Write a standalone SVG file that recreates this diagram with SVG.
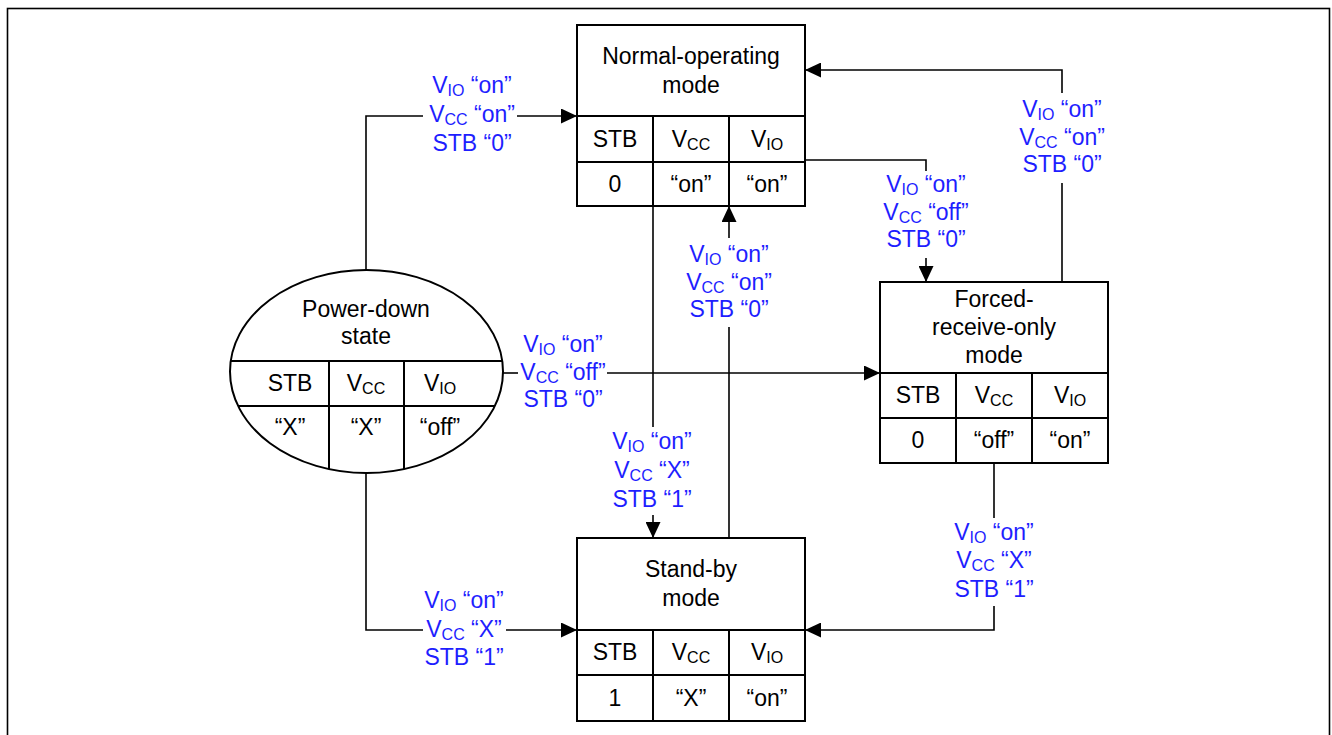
<svg xmlns="http://www.w3.org/2000/svg" width="1332" height="735" viewBox="0 0 1332 735">
<style>
text{font-family:"Liberation Sans",Arial,sans-serif;font-size:23px;text-anchor:middle;fill:#000}
.lbl text{fill:#1e1eff}
.box{fill:#fff;stroke:#000;stroke-width:2}
.grid{stroke:#000;stroke-width:2;fill:none}
.conn{stroke:#000;stroke-width:1.6;fill:none}
.sub{font-size:16px}
</style>
<defs>
<marker id="arr" markerUnits="userSpaceOnUse" viewBox="0 0 16 15" refX="16" refY="7.5" markerWidth="16" markerHeight="15" orient="auto">
<path d="M0,0 L16,7.5 L0,15 Z" fill="#000"/>
</marker>
</defs>
<rect x="7.5" y="8.5" width="1322" height="760" fill="none" stroke="#000" stroke-width="1.6"/>

<g id="connectors">
<!-- Power-down to Normal -->
<path class="conn" d="M366,270 V116 H423"/>
<path class="conn" d="M517,116 H577" marker-end="url(#arr)"/>
<!-- Power-down to Forced -->
<path class="conn" d="M503,373 H518"/>
<path class="conn" d="M607,373 H880" marker-end="url(#arr)"/>
<!-- Normal to Forced -->
<path class="conn" d="M805,160 H926 V171"/>
<path class="conn" d="M926,258 V282" marker-end="url(#arr)"/>
<!-- Forced to Normal -->
<path class="conn" d="M1062,282 V183"/>
<path class="conn" d="M1062,93 V70 H805" marker-end="url(#arr)"/>
<!-- Normal to Standby -->
<path class="conn" d="M653,206 V427"/>
<path class="conn" d="M653,515 V538" marker-end="url(#arr)"/>
<!-- Standby to Normal -->
<path class="conn" d="M729,538 V327"/>
<path class="conn" d="M729,238 V206" marker-end="url(#arr)"/>
<!-- Forced to Standby -->
<path class="conn" d="M994,463 V518"/>
<path class="conn" d="M994,606 V630 H805" marker-end="url(#arr)"/>
<!-- Power-down to Standby -->
<path class="conn" d="M366,473 V630 H423"/>
<path class="conn" d="M506,630 H577" marker-end="url(#arr)"/>
</g>

<g id="labels" class="lbl">
<g id="lbl-pd-normal">
<text x="472" y="93">V<tspan class="sub" dy="3">IO</tspan><tspan dy="-3"> “on”</tspan></text>
<text x="472" y="122">V<tspan class="sub" dy="3">CC</tspan><tspan dy="-3"> “on”</tspan></text>
<text x="472" y="151">STB “0”</text>
</g>
<g id="lbl-pd-forced">
<text x="563" y="352">V<tspan class="sub" dy="3">IO</tspan><tspan dy="-3"> “on”</tspan></text>
<text x="563" y="380">V<tspan class="sub" dy="3">CC</tspan><tspan dy="-3"> “off”</tspan></text>
<text x="563" y="407">STB “0”</text>
</g>
<g id="lbl-normal-forced">
<text x="926" y="192">V<tspan class="sub" dy="3">IO</tspan><tspan dy="-3"> “on”</tspan></text>
<text x="926" y="220">V<tspan class="sub" dy="3">CC</tspan><tspan dy="-3"> “off”</tspan></text>
<text x="926" y="247">STB “0”</text>
</g>
<g id="lbl-forced-normal">
<text x="1062" y="117">V<tspan class="sub" dy="3">IO</tspan><tspan dy="-3"> “on”</tspan></text>
<text x="1062" y="145">V<tspan class="sub" dy="3">CC</tspan><tspan dy="-3"> “on”</tspan></text>
<text x="1062" y="172">STB “0”</text>
</g>
<g id="lbl-normal-standby">
<text x="652" y="449">V<tspan class="sub" dy="3">IO</tspan><tspan dy="-3"> “on”</tspan></text>
<text x="652" y="478">V<tspan class="sub" dy="3">CC</tspan><tspan dy="-3"> “X”</tspan></text>
<text x="652" y="507">STB “1”</text>
</g>
<g id="lbl-standby-normal">
<text x="729" y="262">V<tspan class="sub" dy="3">IO</tspan><tspan dy="-3"> “on”</tspan></text>
<text x="729" y="290">V<tspan class="sub" dy="3">CC</tspan><tspan dy="-3"> “on”</tspan></text>
<text x="729" y="317">STB “0”</text>
</g>
<g id="lbl-forced-standby">
<text x="994" y="540">V<tspan class="sub" dy="3">IO</tspan><tspan dy="-3"> “on”</tspan></text>
<text x="994" y="568">V<tspan class="sub" dy="3">CC</tspan><tspan dy="-3"> “X”</tspan></text>
<text x="994" y="597">STB “1”</text>
</g>
<g id="lbl-pd-standby">
<text x="464" y="608">V<tspan class="sub" dy="3">IO</tspan><tspan dy="-3"> “on”</tspan></text>
<text x="464" y="637">V<tspan class="sub" dy="3">CC</tspan><tspan dy="-3"> “X”</tspan></text>
<text x="464" y="665">STB “1”</text>
</g>
</g>

<g id="node-normal">
<rect class="box" x="577" y="25" width="228" height="181"/>
<path class="grid" d="M577,116 H805 M577,162 H805 M653,116 V206 M729,116 V206"/>
<text x="691" y="64">Normal-operating</text>
<text x="691" y="93">mode</text>
<text x="615" y="147">STB</text>
<text x="691" y="147">V<tspan class="sub" dy="3">CC</tspan></text>
<text x="767" y="147">V<tspan class="sub" dy="3">IO</tspan></text>
<text x="615" y="192">0</text>
<text x="691" y="192">“on”</text>
<text x="767" y="192">“on”</text>
</g>

<g id="node-forced">
<rect class="box" x="880" y="282" width="228" height="181"/>
<path class="grid" d="M880,373 H1108 M880,418 H1108 M956,373 V463 M1032,373 V463"/>
<text x="994" y="307">Forced-</text>
<text x="994" y="335">receive-only</text>
<text x="994" y="363">mode</text>
<text x="918" y="403">STB</text>
<text x="994" y="403">V<tspan class="sub" dy="3">CC</tspan></text>
<text x="1070" y="403">V<tspan class="sub" dy="3">IO</tspan></text>
<text x="918" y="448">0</text>
<text x="994" y="448">“off”</text>
<text x="1070" y="448">“on”</text>
</g>

<g id="node-standby">
<rect class="box" x="577" y="538" width="228" height="183"/>
<path class="grid" d="M577,630 H805 M577,675 H805 M653,630 V721 M729,630 V721"/>
<text x="691" y="577">Stand-by</text>
<text x="691" y="606">mode</text>
<text x="615" y="660">STB</text>
<text x="691" y="660">V<tspan class="sub" dy="3">CC</tspan></text>
<text x="767" y="660">V<tspan class="sub" dy="3">IO</tspan></text>
<text x="615" y="706">1</text>
<text x="691" y="706">“X”</text>
<text x="767" y="706">“on”</text>
</g>

<g id="node-powerdown">
<ellipse class="box" cx="366.5" cy="371.5" rx="136.5" ry="101.5"/>
<path class="grid" d="M230.7,361 H502.3 M238,406 H495 M329,361 V469 M404,361 V469"/>
<text x="366" y="317">Power-down</text>
<text x="366" y="344">state</text>
<text x="290" y="391">STB</text>
<text x="366" y="391">V<tspan class="sub" dy="3">CC</tspan></text>
<text x="440" y="391">V<tspan class="sub" dy="3">IO</tspan></text>
<text x="290" y="435">“X”</text>
<text x="366" y="435">“X”</text>
<text x="440" y="435">“off”</text>
</g>
</svg>
